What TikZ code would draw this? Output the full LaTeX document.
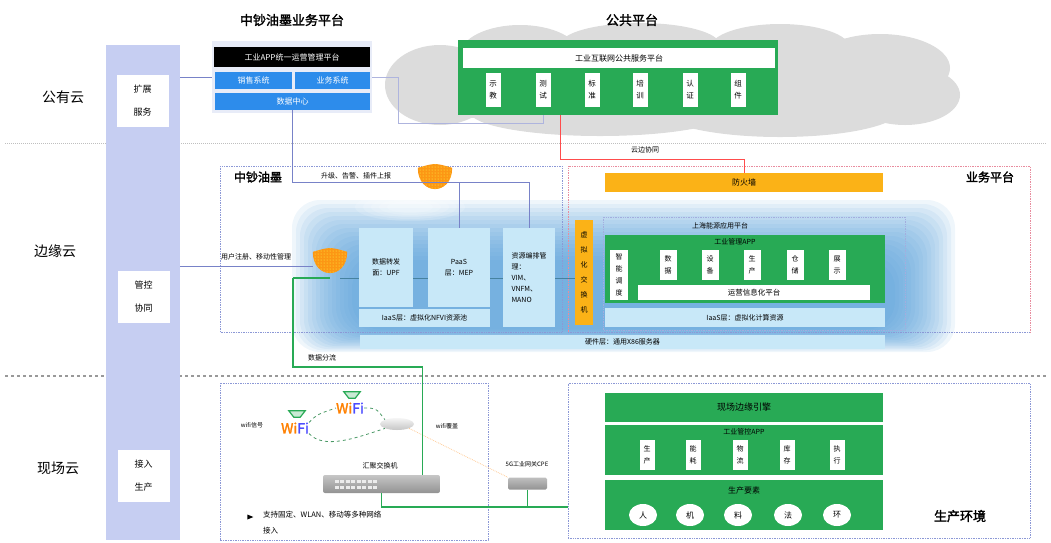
\documentclass[tikz,border=0pt]{standalone}
\usepackage{fontspec}
\setmainfont{Noto Sans CJK SC}[AutoFakeBold=2]
\usetikzlibrary{shapes.geometric,patterns}

\definecolor{sidebar}{RGB}{198,206,242}
\definecolor{bizbg}{RGB}{232,236,248}
\definecolor{sysblue}{RGB}{45,140,235}
\definecolor{pubgreen}{RGB}{40,170,85}
\definecolor{fworange}{RGB}{251,178,23}
\definecolor{paleblue}{RGB}{200,232,248}
\definecolor{glow}{RGB}{80,155,215}
\definecolor{zoneblue}{RGB}{140,152,214}
\definecolor{zonered}{RGB}{232,140,158}
\definecolor{linkblue}{RGB}{120,130,200}
\definecolor{cloudgray}{RGB}{220,220,220}
\definecolor{busteal}{RGB}{70,130,160}

\begin{document}
\begin{tikzpicture}[x=1pt,y=-1pt]
    \tikzset{box/.style     = {rectangle, inner sep=0pt, align=center,
                               font=\fontsize{8}{10}\selectfont},
             cell/.style    = {box, fill=white, minimum width=15pt,
                               minimum height=32pt,
                               font=\fontsize{7.5}{12}\selectfont},
             side/.style    = {box, fill=white, minimum width=52pt,
                               minimum height=52pt,
                               font=\fontsize{9}{23}\selectfont},
             zone/.style    = {font=\fontsize{14}{16}\selectfont},
             title/.style   = {font=\fontsize{13}{15}\selectfont\bfseries},
             small/.style   = {font=\fontsize{7}{9}\selectfont, inner sep=1pt},
             region/.style  = {draw, densely dotted, line width=0.7pt},
             link/.style    = {draw=linkblue, line width=0.8pt},
             data/.style    = {draw=pubgreen, line width=1.6pt},
             wlink/.style   = {draw=pubgreen!60!gray, dashed, line width=0.8pt},
             wifi/.style    = {inner sep=0pt, font=\fontsize{14}{14}\selectfont\bfseries},
             router/.style  = {inner sep=0pt, minimum width=12pt, minimum height=6pt},
             firewall/.style = {inner sep=0pt, minimum width=34pt, minimum height=28pt}}

    \useasboundingbox (0,0) rectangle (1051,542);

    % Cloud layer separators.
    \draw[gray!50, densely dotted, line width=1pt] (5,143) -- (1046,143);
    \draw[gray!80, dashed, line width=1.2pt] (5,376) -- (1046,376);

    % Left hand column.
    \node[fill=sidebar, minimum width=74pt, minimum height=495pt, inner sep=0pt] (side) at (143,292.5) {};
    \node[zone] (pub)  at (63,97)  {公有云};
    \node[zone] (edge) at (55,251) {边缘云};
    \node[zone] (site) at (58,468) {现场云};
    \node[side] (ext)  at (142.5,101)  {扩展\\服务};
    \node[side] (ctl)  at (143.5,296.5) {管控\\协同};
    \node[side] (acc)  at (143.5,475.5) {接入\\生产};

    % Public cloud.
    \foreach \cx/\cy/\rx/\ry in {440/85/55/40, 520/55/60/30, 640/45/80/22,
                                 780/48/70/24, 880/68/70/34, 905/95/55/30,
                                 780/110/120/27, 600/112/130/24}
        \fill[cloudgray] (\cx,\cy) ellipse ({\rx} and {\ry});
    \fill[cloudgray] (430,50) rectangle (900,118);

    \node[title] (bizt) at (292,20) {中钞油墨业务平台};
    \node[title] (pubt) at (632,20) {公共平台};

    \node[box, fill=bizbg, minimum width=160pt, minimum height=72pt] (biz) at (292,77) {};
    \node[box, fill=black, text=white, minimum width=156pt, minimum height=20pt] (ops) at (292,57) {工业APP统一运营管理平台};
    \node[box, fill=sysblue, text=white, minimum width=77pt, minimum height=17pt] (sale) at (253.5,80.5) {销售系统};
    \node[box, fill=sysblue, text=white, minimum width=75pt, minimum height=17pt] (busi) at (332.5,80.5) {业务系统};
    \node[box, fill=sysblue, text=white, minimum width=155pt, minimum height=17pt] (dc) at (292.5,101.5) {数据中心};

    \node[box, fill=pubgreen, minimum width=320pt, minimum height=75pt] (pubbox) at (618,77.5) {};
    \node[box, fill=white, minimum width=312pt, minimum height=20pt] (isp) at (619,58) {工业互联网公共服务平台};
    \foreach \n/\x/\t in {c1/493/示\\教, c2/543/测\\试, c3/592/标\\准,
                          c4/640/培\\训, c5/690/认\\证, c6/738/组\\件}
        \node[cell, minimum height=34pt] (\n) at (\x,90) {\t};

    % Edge cloud glow.
    \foreach \k in {0,...,15}
        \fill[glow, opacity=0.09, rounded corners=28pt]
            ({292+\k*4},{200+\k*4}) rectangle ({955-\k*4},{352-\k*1.5});
    \foreach \k in {0,...,4}
        \fill[white, opacity=0.15] (410,207) ellipse ({55-\k*8} and {14-\k*2});

    % Regions.
    \draw[region, zoneblue] (220,166) rectangle (562,332);
    \draw[region, zonered] (568,332) -- (568,166) -- (1030,166) -- (1030,332);
    \draw[region, zoneblue] (568,332) -- (1030,332);
    \node[title, font=\fontsize{12}{14}\selectfont\bfseries] (inkt) at (258,177) {中钞油墨};
    \node[title, font=\fontsize{12}{14}\selectfont\bfseries] (svct) at (990,177) {业务平台};
    \node[box, fill=fworange, minimum width=278pt, minimum height=19pt] (fwbar) at (744,182.5) {防火墙};

    % Edge computing stack.
    \coordinate (fork) at (293,278);
    \node[box, minimum width=18pt, minimum height=105pt] (vsw) at (584,272.5) {};
    \draw[busteal, line width=0.8pt] (fork -| 340,0) -- (fork -| vsw.west);

    \node[box, fill=paleblue, minimum width=54pt, minimum height=79pt,
          font=\fontsize{7}{11}\selectfont] (upf) at (386,267.5) {数据转发\\面：UPF};
    \node[box, fill=paleblue, minimum width=62pt, minimum height=79pt,
          font=\fontsize{7}{11}\selectfont] (paas) at (459,267.5) {PaaS\\层：MEP};
    \node[box, fill=paleblue, minimum width=52pt, minimum height=99pt, align=left,
          font=\fontsize{7}{11}\selectfont] (mano) at (529,277.5) {资源编排管\\理：\\VIM、\\VNFM、\\MANO};
    \node[box, fill=paleblue, minimum width=131pt, minimum height=18pt,
          font=\fontsize{7}{9}\selectfont] (nfvi) at (424.5,318) {IaaS层：虚拟化NFVI资源池};
    \node[box, fill=fworange, minimum width=18pt, minimum height=105pt,
          font=\fontsize{7}{15}\selectfont] at (vsw) {虚\\拟\\化\\交\\换\\机};
    \node[box, fill=paleblue, minimum width=525pt, minimum height=14pt,
          font=\fontsize{7}{9}\selectfont] (hw) at (622.5,342) {硬件层：通用X86服务器};

    \draw[region, zoneblue!80] (603,217) rectangle (905,330);
    \node[small] (plat) at (720,226) {上海能源应用平台};
    \node[box, fill=pubgreen, minimum width=280pt, minimum height=68pt] (app) at (745,269) {};
    \node[small] (appt) at (735,242) {工业管理APP};
    \node[cell, minimum width=18pt, minimum height=50pt,
          font=\fontsize{7}{12}\selectfont] (sched) at (619,275) {智\\能\\调\\度};
    \foreach \n/\x/\t in {a1/668/数\\据, a2/710/设\\备, a3/752/生\\产,
                          a4/795/仓\\储, a5/837/展\\示}
        \node[cell, minimum width=17pt, minimum height=30pt,
              font=\fontsize{7}{12}\selectfont] (\n) at (\x,265) {\t};
    \node[box, fill=white, minimum width=232pt, minimum height=15pt,
          font=\fontsize{7.5}{9}\selectfont] (info) at (754,292.5) {运营信息化平台};
    \node[box, fill=paleblue, minimum width=280pt, minimum height=19pt,
          font=\fontsize{7}{9}\selectfont] (comp) at (745,317.5) {IaaS层：虚拟化计算资源};

    % Firewalls.
    \node[firewall] (fw1) at (435,182) {};
    \node[firewall] (fw2) at (330,266) {};
    \foreach \f in {fw1, fw2} {
        \fill[fworange!85!red, postaction={pattern=dots, pattern color=yellow!70}]
            (\f.north west) .. controls ([yshift=5pt]\f.north) .. (\f.north east)
            .. controls (\f.south east) and (\f.south west) .. (\f.north west) -- cycle;
    }

    % Links.
    \draw[link] (biz.west -| side.east) -- (biz.west);
    \draw[link, draw=linkblue!60] (biz.east) -- ++(26,0) |- ([yshift=-8pt]pubbox.south -| c2) -- (pubbox.south -| c2);
    \draw[red!70, line width=0.8pt] ([xshift=-58pt]pubbox.south) |- ([yshift=13pt]fwbar.north) -- (fwbar.north);
    \node[small] (sync) at (645,150) {云边协同};

    \draw[link] (dc.south) |- ([yshift=45pt]mano.north) -- (mano.north);
    \draw[link] (paas.north) -- ++(0,-45);
    \node[small] (report) at (356,176) {升级、告警、插件上报};

    \draw[link] (fw2.west -| side.east) -- (fw2.west);
    \node[small] (mob) at (256,257) {用户注册、移动性管理};

    % Field cloud, access side.
    \draw[region, zoneblue] (220,383) rectangle (488,540);
    \node[wifi] (wa) at (295,428) {\textcolor{orange}{Wi}\textcolor{blue!70}{Fi}};
    \node[wifi] (wb) at (350,408) {\textcolor{orange}{Wi}\textcolor{blue!70}{Fi}};
    \node[router] (ra) at (297,414) {};
    \node[router] (rb) at (352,395) {};
    \foreach \r in {ra, rb}
        \draw[pubgreen, line width=1.2pt, fill=pubgreen!25]
            ([xshift=-2pt]\r.north west) -- ([xshift=2pt]\r.north east)
            -- ([xshift=-3pt]\r.south east) -- ([xshift=3pt]\r.south west) -- cycle;
    \node[ellipse, minimum width=34pt, minimum height=12pt, inner sep=0pt,
          top color=gray!8, bottom color=gray!45] (ap) at (397,424) {};
    \draw[wlink] (wa.north east) .. controls +(8,-8) .. (wb.west);
    \draw[wlink] (wb.east) .. controls +(12,0) .. (ap.north west);
    \draw[wlink] (wa.south east) .. controls +(15,16) and +(-30,10) .. (ap.south west);
    \node[small, font=\fontsize{6}{8}\selectfont] (sig) at (252,425) {wifi信号};
    \node[small, font=\fontsize{6}{8}\selectfont] (cov) at (447,426) {wifi覆盖};

    \node[small] (swt) at (380,466) {汇聚交换机};
    \node[rectangle, rounded corners=2pt, minimum width=117pt, minimum height=18pt,
          top color=gray!45, bottom color=gray!85, inner sep=0pt] (sw) at (381.5,484) {};
    \foreach \i in {0,...,7} {
        \fill[gray!15] ([xshift={12pt+\i*5.5pt}, yshift=1pt]sw.west) rectangle ++(4,-3.5);
        \fill[gray!15] ([xshift={12pt+\i*5.5pt}, yshift=-1.5pt]sw.west) rectangle ++(4,3.5);
    }

    \node[rectangle, rounded corners=1.5pt, minimum width=39pt, minimum height=12pt,
          inner sep=0pt, top color=gray!50, bottom color=gray!85] (gw) at (527.5,483.5) {};
    \node[small, font=\fontsize{6}{8}\selectfont] (gwt) at (527,464) {5G工业网关CPE};
    \draw[orange!40, densely dotted, line width=0.8pt] (ap.south east) -- (gw.north west);

    \node[isosceles triangle, fill=black, minimum width=5pt, minimum height=6pt,
          inner sep=0pt] (bul) at (249,517) {};
    \node[anchor=north west, align=left, inner sep=0pt,
          font=\fontsize{7.5}{16}\selectfont] (wlan) at (263,511) {支持固定、WLAN、移动等多种网络\\接入};

    % Field cloud, production side.
    \node[region, zoneblue, minimum width=462pt, minimum height=155pt] (field) at (799,460.5) {};
    \node[box, fill=pubgreen, minimum width=278pt, minimum height=29pt,
          font=\fontsize{9}{11}\selectfont] (eng) at (744,407.5) {现场边缘引擎};
    \node[box, fill=pubgreen, minimum width=278pt, minimum height=50pt] (mes) at (744,450) {};
    \node[small] (mest) at (744,432) {工业管控APP};
    \foreach \n/\x/\t in {m1/647/生\\产, m2/693/能\\耗, m3/740/物\\流,
                          m4/787/库\\存, m5/837/执\\行}
        \node[cell, minimum height=30pt, font=\fontsize{7}{12}\selectfont] (\n) at (\x,455) {\t};
    \node[box, fill=pubgreen, minimum width=278pt, minimum height=50pt] (fac) at (744,505) {};
    \node[small, font=\fontsize{8}{10}\selectfont] (fact) at (744,490) {生产要素};
    \foreach \n/\x/\t in {e1/643/人, e2/690/机, e3/738/料, e4/788/法, e5/837/环}
        \node[ellipse, fill=white, minimum width=28pt, minimum height=22pt,
              inner sep=0pt, font=\fontsize{8}{10}\selectfont] (\n) at (\x,515) {\t};
    \node[title] (prod) at (960,516) {生产环境};

    % Data paths.
    \draw[data] (fork) -- (fork -| fw2.south);
    \coordinate (split) at (293,367);
    \draw[data] (fork) -- (split) -- ([xshift=41pt]split -| sw.north) -- ([xshift=41pt]sw.north);
    \node[small] (shunt) at (322,358) {数据分流};
    \draw[data] (sw.south) |- ([yshift=-46.5pt]field.west);
    \draw[data] (gw.south) -- ++(0,17);
\end{tikzpicture}
\end{document}
